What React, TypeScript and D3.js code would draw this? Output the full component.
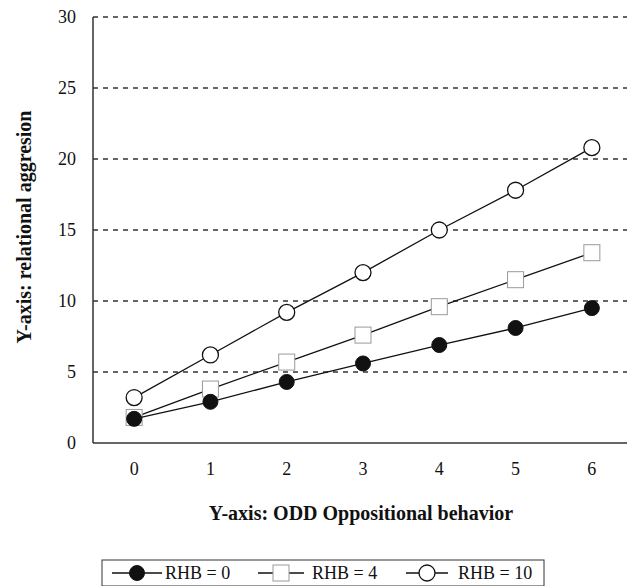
import React from "react";
import * as d3 from "d3";

const categories = [0, 1, 2, 3, 4, 5, 6];
const rhb0 = [1.7, 2.9, 4.3, 5.6, 6.9, 8.1, 9.5];
const rhb4 = [1.8, 3.8, 5.7, 7.6, 9.6, 11.5, 13.4];
const rhb10 = [3.2, 6.2, 9.2, 12.0, 15.0, 17.8, 20.8];
const yTicks = [0, 5, 10, 15, 20, 25, 30];
const seriesNames = ["RHB = 0", "RHB = 4", "RHB = 10"];

const W = 627;
const H = 586;
const FONT = "'Liberation Serif', 'DejaVu Serif', 'Times New Roman', Times, serif";

export default function App() {
  const x = d3.scalePoint<number>().domain(categories).range([96, 630]).padding(0.5);
  const y = d3.scaleLinear().domain([0, 30]).range([443, 17]);
  const line = d3
    .line<number>()
    .x((_, i) => x(categories[i]) as number)
    .y((d) => y(d));

  const series = [
    { name: seriesNames[0], values: rhb0, kind: "filled" },
    { name: seriesNames[1], values: rhb4, kind: "square" },
    { name: seriesNames[2], values: rhb10, kind: "open" },
  ];
  const drawOrder = [series[1], series[0], series[2]];

  const marker = (kind: string, cx: number, cy: number, key: string | number) => {
    if (kind === "filled")
      return <circle key={key} cx={cx} cy={cy} r={7.5} fill="#111" stroke="#111" strokeWidth={1} />;
    if (kind === "open")
      return <circle key={key} cx={cx} cy={cy} r={8} fill="#fff" stroke="#111" strokeWidth={1.3} />;
    return <rect key={key} x={cx - 8} y={cy - 8} width={16} height={16} fill="#fff" stroke="#999" strokeWidth={1} />;
  };

  const legendY = 573;
  const legendItems = [
    { kind: "filled", lx: 112, cx: 137, tx: 165 },
    { kind: "square", lx: 258, cx: 281, tx: 312 },
    { kind: "open", lx: 406, cx: 427, tx: 458 },
  ];

  return (
    <svg width={W} height={H} style={{ position: "absolute", left: 0, top: 0, background: "#fff", fontFamily: FONT }}>
      {yTicks.filter((t) => t > 0).map((t) => (
        <line key={t} x1={93} x2={627} y1={y(t)} y2={y(t)} stroke="#333" strokeWidth={1.4} strokeDasharray="5,5" />
      ))}
      <line x1={93} x2={93} y1={y(30)} y2={y(0)} stroke="#333" strokeWidth={1.5} />
      <line x1={93} x2={627} y1={y(0)} y2={y(0)} stroke="#333" strokeWidth={1.5} />
      {yTicks.map((t) => (
        <text key={t} x={76} y={y(t)} dy="0.35em" textAnchor="end" fontSize={18} fill="#111" style={{ fontFamily: FONT }}>{t}</text>
      ))}
      {categories.map((c) => (
        <text key={c} x={x(c)} y={469} dy="0.35em" textAnchor="middle" fontSize={18} fill="#111" style={{ fontFamily: FONT }}>{c}</text>
      ))}
      <text x={24} y={227} transform="rotate(-90 24 227)" textAnchor="middle" dy="0.35em" fontSize={20} fontWeight="bold" fill="#111" style={{ fontFamily: FONT }}>
        Y-axis: relational aggresion
      </text>
      <text x={361} y={513} textAnchor="middle" dy="0.35em" fontSize={20} fontWeight="bold" fill="#111" style={{ fontFamily: FONT }}>
        Y-axis: ODD Oppositional behavior
      </text>
      {drawOrder.map((s) => (
        <g key={s.name}>
          <path d={line(s.values) || ""} fill="none" stroke="#111" strokeWidth={1.3} />
          {s.values.map((v, i) => marker(s.kind, x(categories[i]) as number, y(v), i))}
        </g>
      ))}
      <rect x={102} y={560} width={442} height={26} fill="#fff" stroke="#333" strokeWidth={1} />
      {legendItems.map((it, i) => (
        <g key={i}>
          <line x1={it.lx} x2={it.cx + (it.cx - it.lx)} y1={legendY} y2={legendY} stroke="#111" strokeWidth={1.3} />
          {marker(it.kind, it.cx, legendY, "m" + i)}
          <text x={it.tx} y={legendY} dy="0.35em" fontSize={18} fill="#111" style={{ fontFamily: FONT }}>{seriesNames[i]}</text>
        </g>
      ))}
    </svg>
  );
}
